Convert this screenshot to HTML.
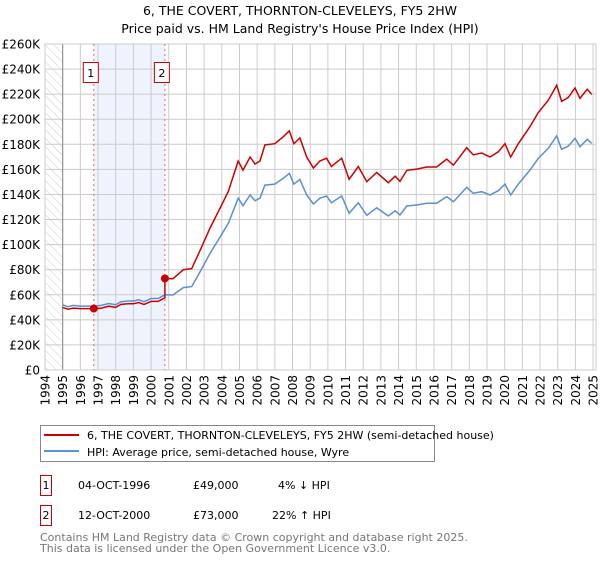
<!DOCTYPE html>
<html><head><meta charset="utf-8"><style>
body{margin:0;background:#fff;font-family:"DejaVu Sans","Liberation Sans",sans-serif;}
svg text{font-family:"DejaVu Sans","Liberation Sans",sans-serif;}
</style></head><body>
<svg id="chart" width="600" height="560" xmlns="http://www.w3.org/2000/svg">
<defs><pattern id="hatch" width="6" height="6" patternUnits="userSpaceOnUse" patternTransform="rotate(-45)"><line x1="0" y1="0" x2="0" y2="6" stroke="#ccc" stroke-width="1"/></pattern></defs>
<text x="300" y="15" text-anchor="middle" font-size="12.5">6, THE COVERT, THORNTON-CLEVELEYS, FY5 2HW</text>
<text x="300" y="33" text-anchor="middle" font-size="12.5">Price paid vs. HM Land Registry's House Price Index (HPI)</text>
<g id="plot"></g>
<g>
<rect x="40.5" y="425.5" width="394" height="36" fill="#fff" stroke="#888"/>
<line x1="44" y1="435" x2="79" y2="435" stroke="#cc0000" stroke-width="2"/>
<text x="87" y="439" font-size="11">6, THE COVERT, THORNTON-CLEVELEYS, FY5 2HW (semi-detached house)</text>
<line x1="44" y1="451" x2="79" y2="451" stroke="#5b8fd6" stroke-width="2"/>
<text x="87" y="456" font-size="11">HPI: Average price, semi-detached house, Wyre</text>
</g>
<g font-size="11">
<rect x="40.5" y="475.5" width="11" height="20" fill="#fff" stroke="#cc0000"/>
<text x="46" y="489" text-anchor="middle">1</text>
<text x="78" y="489">04-OCT-1996</text>
<text x="193" y="489">£49,000</text>
<text x="278" y="489">4% ↓ HPI</text>
</g>
<g font-size="11">
<rect x="40.5" y="505.5" width="11" height="20" fill="#fff" stroke="#cc0000"/>
<text x="46" y="519" text-anchor="middle">2</text>
<text x="78" y="519">12-OCT-2000</text>
<text x="193" y="519">£73,000</text>
<text x="272" y="519">22% ↑ HPI</text>
</g>
<text x="40" y="541" font-size="11" fill="#777">Contains HM Land Registry data © Crown copyright and database right 2025.</text>
<text x="40" y="552" font-size="11" fill="#777">This data is licensed under the Open Government Licence v3.0.</text>
</svg>
<script>
const dates=[1995.0,1995.3,1995.6,1996.0,1996.5,1996.76,1997.2,1997.6,1998.0,1998.3,1998.7,1999.0,1999.3,1999.6,2000.0,2000.4,2000.78,2000.78,2001.24,2001.82,2002.3,2002.77,2003.33,2003.9,2004.37,2004.93,2005.2,2005.6,2005.88,2006.16,2006.44,2007.0,2007.48,2007.82,2008.08,2008.42,2008.8,2009.18,2009.55,2009.93,2010.2,2010.78,2011.2,2011.72,2012.2,2012.76,2013.42,2013.8,2014.08,2014.46,2015.02,2015.6,2016.15,2016.72,2017.1,2017.85,2018.22,2018.7,2019.17,2019.64,2020.02,2020.34,2020.77,2021.43,2021.9,2022.47,2022.94,2023.22,2023.6,2023.98,2024.26,2024.67,2024.92];
const hpi=[52,50.5,51.5,51,51,51,51.5,53,52,54.5,55,55,56,54.5,57,57,60,60,59.8,65.7,66.5,78.4,93,106,117,137,131,139.6,135,137,147.5,148.3,152.9,156.8,148.3,152,139.6,132.4,137,138.8,133.4,138.8,125,133.4,123.4,129.4,122.8,127,123.6,130.8,131.6,133,133,138.2,134.2,145.7,141,142.2,139.6,143,148.3,139.6,148.3,159.5,168.8,176.8,186.6,176,178.6,184.8,178,184,180.8];
const price=[49.9,48.5,49.4,49,49,49,49.4,50.9,49.9,52.3,52.8,52.8,53.8,52.3,54.7,54.7,57.6,73,72.8,80,80.9,95.4,113.2,129,142.4,166.7,159.4,169.9,164.3,166.7,179.5,180.5,186.1,190.8,180.5,185,169.9,161.1,166.7,168.9,162.3,168.9,152.1,162.3,150.2,157.5,149.4,154.6,150.4,159.2,160.2,161.9,161.9,168.2,163.3,177.3,171.6,173.1,169.9,174,180.5,169.9,180.5,194.1,205.4,215.2,227.1,214.2,217.4,224.9,216.6,223.9,220];
const saleDates=[1996.76,2000.78];
const salePrices=[49,73];
const saleLabels=["1","2"];
const yTicks=[0,20,40,60,80,100,120,140,160,180,200,220,240,260];
const xTicks=[1994,1995,1996,1997,1998,1999,2000,2001,2002,2003,2004,2005,2006,2007,2008,2009,2010,2011,2012,2013,2014,2015,2016,2017,2018,2019,2020,2021,2022,2023,2024,2025];
const L=45,R=596,T=44,B=370;
const x=y=>L+(y-1994)*17.68;
const yv=v=>B-v/260*(B-T);
const NS="http://www.w3.org/2000/svg";
const g=document.getElementById('plot');
function mk(t,a,p){const e=document.createElementNS(NS,t);for(const k in a)e.setAttribute(k,a[k]);(p||g).appendChild(e);return e;}
let e=mk('rect',{x:L,y:T,width:x(1995)-L,height:B-T,fill:'url(#hatch)'});


e=mk('rect',{x:x(saleDates[0]),y:T,width:x(saleDates[1])-x(saleDates[0]),height:B-T,fill:'#eef3fd'});


yTicks.forEach(v=>{
 let l=mk('line',{x1:L,x2:R,y1:yv(v),y2:yv(v),stroke:'#ccc'});
 
 
 let t=mk('text',{x:40,y:yv(v)+4.5,'text-anchor':'end','font-size':'12'});
 t.textContent=v===0?'£0':'£'+v+'K';
 
 
});
xTicks.forEach(yr=>{
 let l=mk('line',{x1:x(yr),x2:x(yr),y1:T,y2:B,stroke:'#ccc'});
 
 
 let t=mk('text',{x:0,y:0,'text-anchor':'end','font-size':'12',transform:`translate(${x(yr)+4.5},375) rotate(-90)`});
 t.textContent=yr;
 
 
});
e=mk('line',{x1:x(1995),x2:x(1995),y1:T,y2:B,stroke:'#888'});


e=mk('rect',{x:L,y:T,width:R-L,height:B-T,fill:'none',stroke:'#ccc'});


saleDates.forEach((d,i)=>{
 let l=mk('line',{x1:x(d),x2:x(d),y1:T,y2:B,stroke:'#e66','stroke-dasharray':'2,3'});
 
 
});
const pts=a=>a.map((v,i)=>x(dates[i]).toFixed(1)+','+yv(v).toFixed(1)).join(' ');
e=mk('polyline',{points:pts(hpi),fill:'none',stroke:'#5b8fd6','stroke-width':1.5});


e=mk('polyline',{points:pts(price),fill:'none',stroke:'#cc0000','stroke-width':1.5});


saleDates.forEach((d,i)=>{
 let c=mk('circle',{cx:x(d),cy:yv(salePrices[i]),r:4,fill:'#cc0000'});
 
 
 let r=mk('rect',{x:x(d)-10.5,y:62.5,width:15,height:20,fill:'#fff',stroke:'#cc0000'});
 
 
 let t=mk('text',{x:x(d)-3,y:77,'text-anchor':'middle','font-size':'11'});
 t.textContent=saleLabels[i];
 
 
});
</script>
</body></html>
